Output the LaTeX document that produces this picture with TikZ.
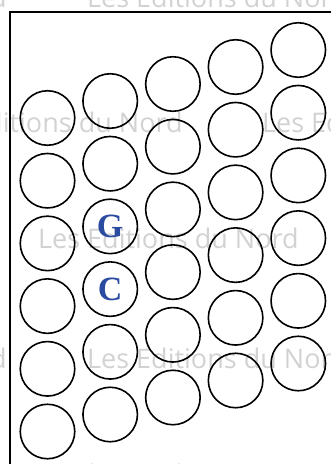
\documentclass[tikz,border=0pt]{standalone}
\usepackage{fontspec}
\setmainfont{Liberation Serif}
\newfontfamily\wmfont{Open Sans}
\definecolor{wmgray}{HTML}{D2D2D2}
\definecolor{letterblue}{HTML}{2A4BA0}
\tikzset{
  ring/.style={circle, draw=black, line width=1.6pt, minimum size=54.5pt, inner sep=0pt},
  wm/.style={anchor=base west, inner sep=0pt, text=wmgray, font=\wmfont\fontsize{27}{27}\selectfont},
  letter/.style={text=letterblue, font=\bfseries\fontsize{34}{34}\selectfont},
  frameline/.style={line width=2pt, black}
}
\begin{document}
\begin{tikzpicture}[x=1pt, y=-1pt]
\useasboundingbox (0,0) rectangle (331,464);
% watermark
\node[wm] (w1a) at (-254,7) {Les Editions du Nord};
\node[wm] (w1b) at (87,7) {Les Editions du Nord};
\node[wm] (w2a) at (-78,132) {Les Editions du Nord};
\node[wm] (w2b) at (262,132) {Les Editions du Nord};
\node[wm] (w3) at (38,248) {Les Editions du Nord};
\node[wm] (w4a) at (-254,368) {Les Editions du Nord};
\node[wm] (w4b) at (87,368) {Les Editions du Nord};
\node[wm] (w5a) at (-78,484) {Les Editions du Nord};
\node[wm] (w5b) at (262,484) {Les Editions du Nord};
% frame
\coordinate (ftr) at (335,12);
\coordinate (ftl) at (9.5,12);
\coordinate (fbl) at (9.5,470);
\draw[frameline] (ftr) -- (ftl) -- (fbl);
% circles
\foreach \c in {0,...,4}{
  \foreach \r in {0,...,5}{
    \node[ring] (c-\c-\r) at ({47.5+62.7*\c},{118-17*\c+62.7*\r}) {};
  }
}
\node[letter] (G) at (c-1-2) {G};
\node[letter] (C) at (c-1-3) {C};
\end{tikzpicture}
\end{document}
